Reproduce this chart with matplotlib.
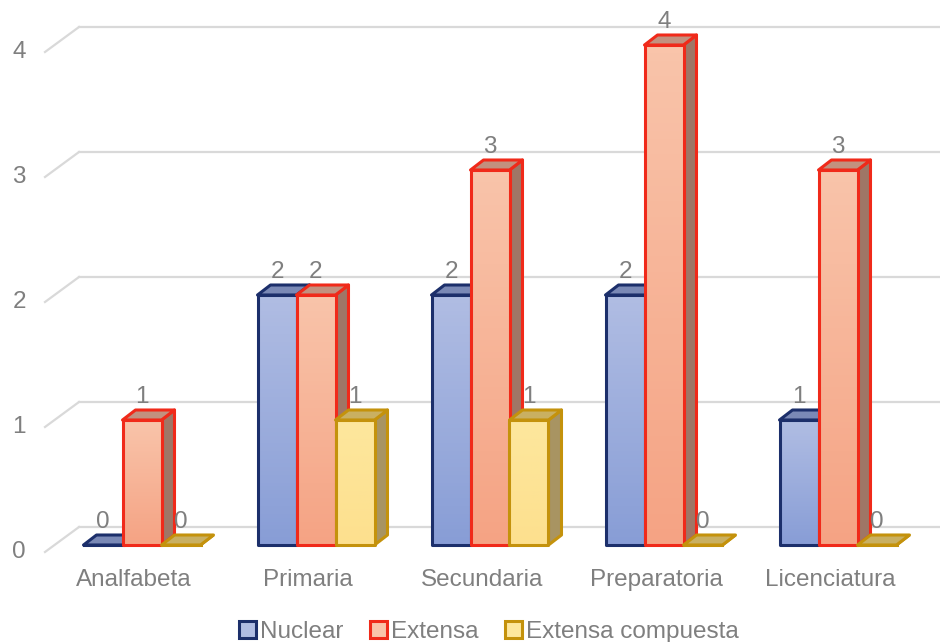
import numpy as np
import matplotlib.pyplot as plt
from matplotlib.patches import Polygon, Rectangle, Patch
from matplotlib.colors import LinearSegmentedColormap

plt.rcParams['font.family'] = ['Liberation Sans', 'DejaVu Sans']

categories = ['Analfabeta', 'Primaria', 'Secundaria', 'Preparatoria', 'Licenciatura']
series = ['Nuclear', 'Extensa', 'Extensa compuesta']
nuclear = [0, 2, 2, 2, 1]
extensa = [1, 2, 3, 4, 3]
compuesta = [0, 1, 1, 0, 0]
yticks = [0, 1, 2, 3, 4]

# estilos: borde, cara frontal (arriba, abajo), tapa, lado
styles = [
    dict(edge='#1c2f6b', front=('#b0bde3', '#889dd6'), top='#7a89b6', side='#6a79a6'),
    dict(edge='#f02a1a', front=('#f9c4aa', '#f5a384'), top='#c2917f', side='#9f7666'),
    dict(edge='#c4920c', front=('#fde79d', '#fde08e'), top='#c9b062', side='#a89462'),
]
fs = 17.5
tc = '#7f7f7f'

fig = plt.figure(figsize=(9.4, 6.42), dpi=100)
ax = fig.add_axes([0, 0, 1, 1])
ax.axis('off')

# escala: 174 px por categoria, 125 px por unidad
xmin, xmax = -142 / 174, (940 - 142) / 174
ymin, ymax = -97 / 125, 545 / 125
w = 39 / 174          # ancho de barra
ddx, ddy = 13 / 174, 10 / 125   # profundidad de barra
fx, fy = -9 / 174, -7 / 125     # plano frontal
bx, by = 25 / 174, 18 / 125     # pared trasera
x_left = (45 - 142) / 174

grid_c = '#d9d9d9'
for v in yticks:
    ax.plot([x_left, x_left + (bx - fx)], [v + fy, v + by], color=grid_c, lw=1.6, zorder=1)
    ax.plot([x_left + (bx - fx), xmax], [v + by, v + by], color=grid_c, lw=1.6, zorder=1)
    ax.text(x_left - 0.11, v + fy, str(v), ha='right', va='center', fontsize=fs, color=tc)

data = [nuclear, extensa, compuesta]
z = 2
for i, cat in enumerate(categories):
    for s in range(3):
        v = data[s][i]
        st = styles[s]
        x0 = i + (s - 1) * w - w / 2
        x1 = x0 + w
        side = Polygon([(x1, 0), (x1 + ddx, ddy), (x1 + ddx, v + ddy), (x1, v)],
                       closed=True, fc=st['side'], ec=st['edge'], lw=2.2, joinstyle='round', zorder=z)
        top = Polygon([(x0, v), (x0 + ddx, v + ddy), (x1 + ddx, v + ddy), (x1, v)],
                      closed=True, fc=st['top'], ec=st['edge'], lw=2.2, joinstyle='round', zorder=z)
        ax.add_patch(side)
        ax.add_patch(top)
        if v > 0:
            rect = Rectangle((x0, 0), w, v, fc='none', ec=st['edge'], lw=2.2, joinstyle='round', zorder=z + 0.2)
            ax.add_patch(rect)
            cmap = LinearSegmentedColormap.from_list('g', [st['front'][1], st['front'][0]])
            im = ax.imshow(np.linspace(0, 1, 64).reshape(-1, 1), extent=[x0, x1, 0, v],
                           origin='lower', aspect='auto', cmap=cmap, zorder=z + 0.1)
            im.set_clip_path(rect)
        else:
            ax.plot([x0, x1], [0, 0], color=st['edge'], lw=2.2, zorder=z + 0.2)
        ax.text(x0 + w / 2, v + 0.095, str(v), ha='center', va='bottom', fontsize=fs,
                color=tc, zorder=50)
        z += 1
    ax.text(i - 0.046, -0.28, cat, ha='center', va='center', fontsize=fs, color=tc)

ax.set_xlim(xmin, xmax)
ax.set_ylim(ymin, ymax)

handles = [Patch(fc=st['front'][0], ec=st['edge'], lw=2.2) for st in styles]
fig.legend(handles, series, loc='lower center', bbox_to_anchor=(0.52, -0.035), ncol=3, frameon=False,
           fontsize=fs, labelcolor=tc, handlelength=0.7, handleheight=0.7,
           handletextpad=0.15, columnspacing=1.1)

fig.savefig('out.png', dpi=100)
